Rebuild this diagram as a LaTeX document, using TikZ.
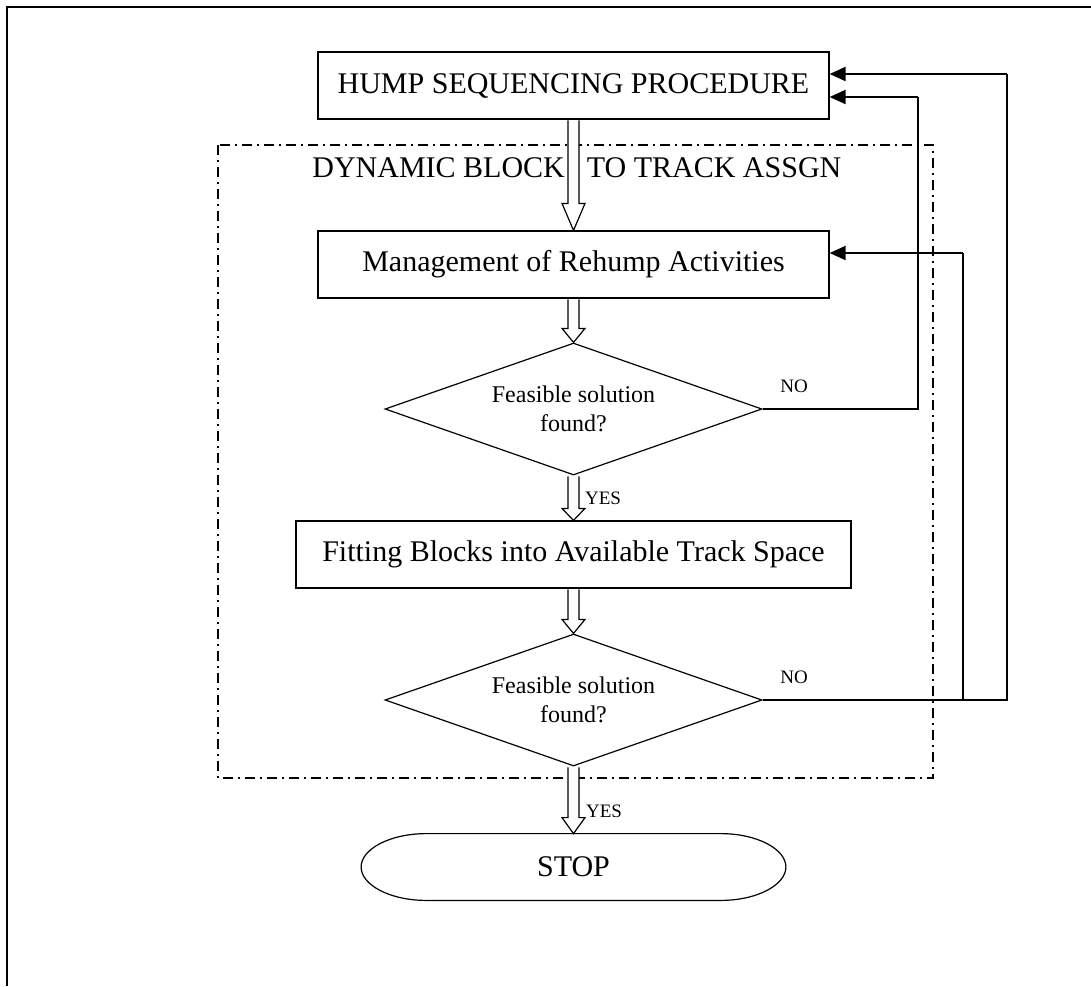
\documentclass[tikz,border=0pt]{standalone}
\usepackage{fontspec}
\setmainfont{Liberation Serif}
\usetikzlibrary{shapes.geometric, arrows.meta, calc}

\newcommand{\fatarrow}[3]{%
  \filldraw[fill=white, line width=0.6pt] ($(#1)+(-5.5,0.8)$) -- ($(#2)+(-5.5,-#3)$) -- ($(#2)+(-11.5,-#3)$) -- (#2) -- ($(#2)+(11.5,-#3)$) -- ($(#2)+(5.5,-#3)$) -- ($(#1)+(5.5,0.8)$);}

\begin{document}
\begin{tikzpicture}[x=0.5pt, y=-0.5pt,
    box/.style = {draw, line width=0.6pt, minimum height=33.5pt, font=\fontsize{15}{18}\selectfont},
    dec/.style = {diamond, draw, line width=0.6pt, aspect=2.86, minimum width=188.5pt, minimum height=66pt, inner sep=0pt, align=center, font=\fontsize{12}{14.5}\selectfont},
    lbl/.style = {inner sep=0pt, font=\fontsize{9.5}{11}\selectfont},
    fb/.style = {line width=1pt, -{Triangle[length=8pt, width=7pt]}},
    frame/.style = {line width=0.6pt, dash pattern=on 5pt off 2.5pt on 1pt off 2.5pt}]
    \useasboundingbox (0,0) rectangle (1091,986);
    \draw[line width=1pt] (7,986) -- (7,7) -- (1091,7);

    \draw[frame] (218,145) rectangle (933,778);
    \node[anchor=base west, inner sep=0pt, font=\fontsize{15}{18}\selectfont] (dyn) at (312,177) {DYNAMIC BLOCK\hspace{11pt}TO TRACK ASSGN};

    \node[box, minimum width=255.5pt] (hump) at (573.5,85.5) {HUMP SEQUENCING PROCEDURE};
    \node[box, minimum width=255.5pt] (rehump) at (573.5,264.5) {Management of Rehump Activities};
    \node[dec] (feas1) at (573.5,409) {Feasible solution\\found?};
    \node[box, minimum width=277.5pt] (fit) at (573.5,554.5) {Fitting Blocks into Available Track Space};
    \node[dec] (feas2) at (573.5,700) {Feasible solution\\found?};
    \node[minimum width=212pt, minimum height=33pt, font=\fontsize{15}{18}\selectfont] (stop) at (573.5,867) {STOP};
    \draw[line width=0.6pt] ($(stop.north west)+(65,0)$) -- ($(stop.north east)+(-65,0)$)
        .. controls ($(stop.north east)+(-29,0)$) and ($(stop.east)+(0,-18)$) .. (stop.east)
        .. controls ($(stop.east)+(0,18)$) and ($(stop.south east)+(-29,0)$) .. ($(stop.south east)+(-65,0)$)
        -- ($(stop.south west)+(65,0)$)
        .. controls ($(stop.south west)+(29,0)$) and ($(stop.west)+(0,18)$) .. (stop.west)
        .. controls ($(stop.west)+(0,-18)$) and ($(stop.north west)+(29,0)$) .. cycle;

    \fatarrow{hump.south}{rehump.north}{27}
    \fatarrow{rehump.south}{feas1.north}{14}
    \fatarrow{feas1.south}{fit.north}{12}
    \fatarrow{fit.south}{feas2.north}{14}
    \fatarrow{feas2.south}{stop.north}{16}

    \node[lbl] (yes1) at (603,498) {YES};
    \node[lbl] (yes2) at (604,811) {YES};
    \node[lbl] (no1) at (794,386) {NO};
    \node[lbl] (no2) at (794,677) {NO};

    \coordinate (na) at (918,409);
    \coordinate (nat) at (918,97);
    \coordinate (nb) at (1007,700);
    \coordinate (nbt) at (1007,74);
    \coordinate (nc) at (963,700);
    \coordinate (nct) at (963,253);

    \draw[line width=0.6pt] (feas1.east) -- (na) -- (nat);
    \draw[fb] (nat) -- (hump.east |- nat);
    \draw[line width=0.6pt] (feas2.east) -- (nb) -- (nbt);
    \draw[fb] (nbt) -- (hump.east |- nbt);
    \draw[line width=0.6pt] (nc) -- (nct);
    \draw[fb] (nct) -- (rehump.east |- nct);
\end{tikzpicture}
\end{document}
